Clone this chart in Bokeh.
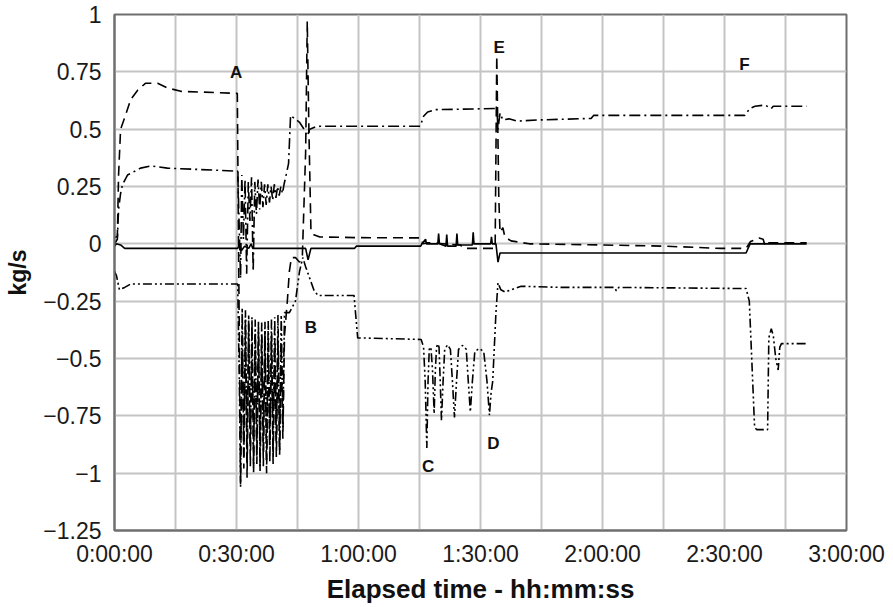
from bokeh.plotting import figure
from bokeh.models import Range1d, FixedTicker, ColumnDataSource
from bokeh.core.properties import value
from bokeh.embed import file_html
from bokeh.resources import INLINE

# ---- data (elapsed time in minutes, flow in kg/s) ----
t_dash = [0, 0.7, 1.0, 1.5, 2.7, 4.0, 5.7, 7.6, 10.6, 13.0, 16.3, 30.2, 30.5,
          31.0, 31.4, 31.8, 32.2, 32.6, 33.0, 33.4, 33.8, 34.2, 34.6, 35.0, 35.4, 35.8, 36.2,
          36.6, 37.0, 37.4, 37.8, 38.2, 38.6, 39.0, 39.4, 39.8, 40.2, 40.6, 41.0, 41.4,
          41.8, 42.5, 43.0, 43.5, 44.5, 45.5, 46.2, 47.0, 47.4, 47.8, 48.3, 49.0, 50.5, 60.0,
          75.4, 75.8, 77.0, 85.0, 86.0, 93.6, 94.0, 94.5, 94.8, 95.5, 96.0, 97.5, 102.0,
          120.0, 135.0, 149.0, 155.3, 156.4, 158.5, 159.5, 160.0, 161.0, 170.2]
v_dash = [0.03, 0.03, 0.30, 0.50, 0.56, 0.63, 0.67, 0.70, 0.70, 0.68, 0.665, 0.656, 0.0,
          -1.04, -0.35, -0.98, -0.33, -1.02, -0.35, -0.97, -0.36, -1.00, -0.38, -0.96, -0.37, -0.99, -0.40,
          -0.97, -0.38, -1.00, -0.41, -0.95, -0.40, -0.96, -0.42, -0.93, -0.42, -0.92, -0.45, -0.85,
          -0.40, -0.25, -0.12, -0.06, -0.06, -0.08, -0.05, 0.40, 0.97, 0.50, 0.06, 0.04, 0.03, 0.027,
          0.026, 0.0, 0.005, -0.005, -0.02, -0.02, 0.82, 0.20, 0.05, 0.07, 0.03, 0.013, 0.0,
          -0.005, -0.01, -0.02, -0.02, 0.01, 0.025, 0.02, -0.01, 0.005, 0.005]

t_dashdot = [0, 0.7, 1.0, 1.5, 2.0, 3.2, 6.4, 9.0, 13.0, 30.3, 30.7, 31.0,
             31.3, 31.7, 32.1, 32.5, 32.9, 33.3, 33.7, 34.1, 34.5, 34.9, 35.3, 35.7, 36.1, 36.5,
             36.9, 37.3, 37.7, 38.1, 38.5, 38.9, 39.3, 39.7, 40.1, 40.5, 40.9, 41.3, 41.7,
             42.2, 42.8, 43.3, 44.0, 45.5, 46.6, 47.4, 48.0, 49.5, 50.6, 75.2, 76.0, 77.0, 79.0,
             93.5, 94.0, 94.3, 94.8, 95.5, 97.0, 99.0, 104.0, 117.2, 117.8, 155.0, 156.2, 157.5,
             160.0, 161.5, 162.0, 170.2]
v_dashdot = [0.0, 0.02, 0.15, 0.22, 0.26, 0.30, 0.33, 0.34, 0.33, 0.317, 0.05, -0.15,
             0.30, 0.02, 0.28, -0.13, 0.27, 0.10, 0.29, -0.12, 0.27, 0.13, 0.28, 0.15, 0.27, 0.16,
             0.26, 0.17, 0.26, 0.18, 0.25, 0.19, 0.26, 0.20, 0.25, 0.21, 0.25, 0.22, 0.26,
             0.30, 0.35, 0.56, 0.55, 0.53, 0.50, 0.47, 0.50, 0.51, 0.513, 0.513, 0.556, 0.575, 0.585,
             0.59, 0.60, 0.50, 0.57, 0.54, 0.545, 0.535, 0.54, 0.547, 0.56, 0.56, 0.59, 0.60,
             0.605, 0.59, 0.60, 0.60]

t_solid = [0, 0.5, 1.5, 2.5, 30.3, 30.8, 31.2, 32.0, 33.0, 33.6, 34.0, 47.0, 47.6, 48.3,
           59.0, 59.5, 75.3, 75.6, 76.5, 76.7, 79.5, 79.7, 79.9, 81.5, 81.7, 81.9, 84.0, 84.2,
           84.4, 88.0, 88.2, 88.4, 92.5, 92.7, 92.9, 93.8, 94.3, 94.8, 155.3, 156.3, 170.2]
v_solid = [-0.01, 0.0, -0.005, -0.02, -0.02, 0.0, -0.03, -0.01, -0.02, 0.0, -0.02, -0.02, -0.07, -0.02,
           -0.02, -0.01, -0.01, 0.0, 0.02, 0.0, 0.0, 0.045, 0.0, -0.01, 0.04, -0.01, -0.01, 0.045,
           -0.005, -0.005, 0.05, 0.0, 0.0, 0.03, 0.0, 0.0, -0.08, -0.04, -0.04, 0.0, 0.0]

t_dashdotdot = [0, 0.5, 1.2, 2.5, 4.0, 30.3, 30.7, 31.0,
                31.4, 31.8, 32.2, 32.6, 33.0, 33.4, 33.8, 34.2, 34.6, 35.0, 35.4, 35.8, 36.2, 36.6,
                37.0, 37.4, 37.8, 38.2, 38.6, 39.0, 39.4, 39.8, 40.2, 40.6, 41.0, 41.4, 41.8,
                43.0, 44.5, 45.5, 46.3, 47.0, 48.0, 49.0, 50.0, 58.9, 59.8,
                75.4, 76.0, 76.4, 76.8, 77.1, 77.4, 77.8, 78.2, 78.6, 78.9, 79.2, 79.5,
                79.8, 80.1, 80.4, 80.8, 81.2, 81.9, 82.6, 83.1, 83.6, 84.1, 84.6, 85.6,
                86.5, 87.0, 87.5, 88.0, 88.6, 89.7, 90.8, 91.6, 92.2, 92.6, 93.0, 93.4, 93.8, 94.3,
                95.0, 96.0, 100.0, 110.0, 123.0, 123.4, 124.0, 155.3, 156.1, 156.6, 157.0, 157.4,
                157.9, 160.6, 160.9, 161.5, 162.0, 162.6, 163.2, 163.6, 164.0, 170.2]
v_dashdotdot = [-0.12, -0.14, -0.20, -0.19, -0.175, -0.175, -0.60, -1.06,
                -0.28, -0.93, -0.29, -0.95, -0.31, -0.90, -0.32, -0.96, -0.33, -0.92, -0.34, -0.97,
                -0.34, -0.90, -0.34, -0.95, -0.33, -0.88, -0.33, -0.92, -0.32, -0.87, -0.31, -0.90,
                -0.31, -0.80, -0.30,
                -0.30, -0.25, -0.12, -0.06, -0.10, -0.15, -0.20, -0.225, -0.225, -0.41,
                -0.417, -0.45, -0.60, -0.89, -0.60, -0.46, -0.45, -0.55, -0.74, -0.55, -0.45, -0.436,
                -0.45, -0.60, -0.77, -0.60, -0.46, -0.44, -0.46, -0.60, -0.757, -0.60, -0.46, -0.443,
                -0.46, -0.60, -0.733, -0.60, -0.47, -0.456, -0.47, -0.60, -0.747, -0.65, -0.60, -0.45, -0.30, -0.17,
                -0.20, -0.21, -0.185, -0.19, -0.19, -0.205, -0.19, -0.195, -0.25, -0.46, -0.63, -0.80,
                -0.81, -0.81, -0.41, -0.37, -0.40, -0.50, -0.55, -0.45, -0.435, -0.435]

event_letters = ["A", "B", "C", "D", "E", "F"]
event_t = [29.9, 48.3, 77.1, 93.2, 94.6, 154.9]
event_v = [0.746, -0.365, -0.97, -0.871, 0.856, 0.78]

x_ticks = [0, 15, 30, 45, 60, 75, 90, 105, 120, 135, 150, 165, 180]
x_tick_labels = ["0:00:00", "", "0:30:00", "", "1:00:00", "", "1:30:00", "",
                 "2:00:00", "", "2:30:00", "", "3:00:00"]
y_ticks = [-1.25, -1.0, -0.75, -0.5, -0.25, 0.0, 0.25, 0.5, 0.75, 1.0]
y_tick_labels = ["\u22121.25", "\u22121", "\u22120.75", "\u22120.5", "\u22120.25",
                 "0", "0.25", "0.5", "0.75", "1"]

FONT = "Liberation Sans"

p = figure(width=893, height=606,
           min_border_left=114, min_border_right=47, min_border_top=14, min_border_bottom=74,
           x_range=Range1d(0, 180), y_range=Range1d(-1.25, 1.0),
           output_backend="svg", toolbar_location=None,
           background_fill_color="white", border_fill_color="white")

p.outline_line_color = "#6e6e6e"
p.outline_line_width = 2

p.xaxis.ticker = FixedTicker(ticks=x_ticks)
p.yaxis.ticker = FixedTicker(ticks=y_ticks)
p.xaxis.major_label_overrides = {k: v for k, v in zip(x_ticks, x_tick_labels)}
p.yaxis.major_label_overrides = {k: v for k, v in zip(y_ticks, y_tick_labels)}
for ax in (p.xaxis, p.yaxis):
    ax.major_tick_line_color = None
    ax.minor_tick_line_color = None
    ax.axis_line_color = "#6e6e6e"
    ax.axis_line_width = 2
    ax.major_label_text_font = FONT
    ax.major_label_text_font_size = "23px"
    ax.major_label_text_color = "#1a1a1a"
    ax.axis_label_text_font = FONT
    ax.axis_label_text_font_style = "bold"
    ax.axis_label_text_color = "#111111"
p.xaxis.major_label_standoff = 4
p.yaxis.major_label_standoff = 7
p.xaxis.axis_label = "Elapsed time - hh:mm:ss"
p.yaxis.axis_label = "kg/s"
p.xaxis.axis_label_text_font_size = "26px"
p.yaxis.axis_label_text_font_size = "23px"
p.xaxis.axis_label_standoff = 4
p.yaxis.axis_label_standoff = 9

p.xgrid.ticker = FixedTicker(ticks=x_ticks)
p.ygrid.ticker = FixedTicker(ticks=y_ticks)
for g in (p.xgrid, p.ygrid):
    g.grid_line_color = "#c4c4c4"
    g.grid_line_width = 2

LW = 1.6
p.line(t_dashdotdot, v_dashdotdot, line_color="black", line_width=LW, line_dash="9 3 2 3 2 3")
p.line(t_dashdot, v_dashdot, line_color="black", line_width=LW, line_dash="11 4 2 4")
p.line(t_dash, v_dash, line_color="black", line_width=LW, line_dash="10 6")
p.line(t_solid, v_solid, line_color="black", line_width=LW)

src = ColumnDataSource(dict(x=event_t, y=event_v, text=event_letters))
p.text(x="x", y="y", text="text", source=src, text_font=value(FONT),
       text_font_size="17px", text_font_style="bold", text_color="#111111",
       text_align="center", text_baseline="middle")

open("out.html", "w").write(file_html(p, INLINE))
